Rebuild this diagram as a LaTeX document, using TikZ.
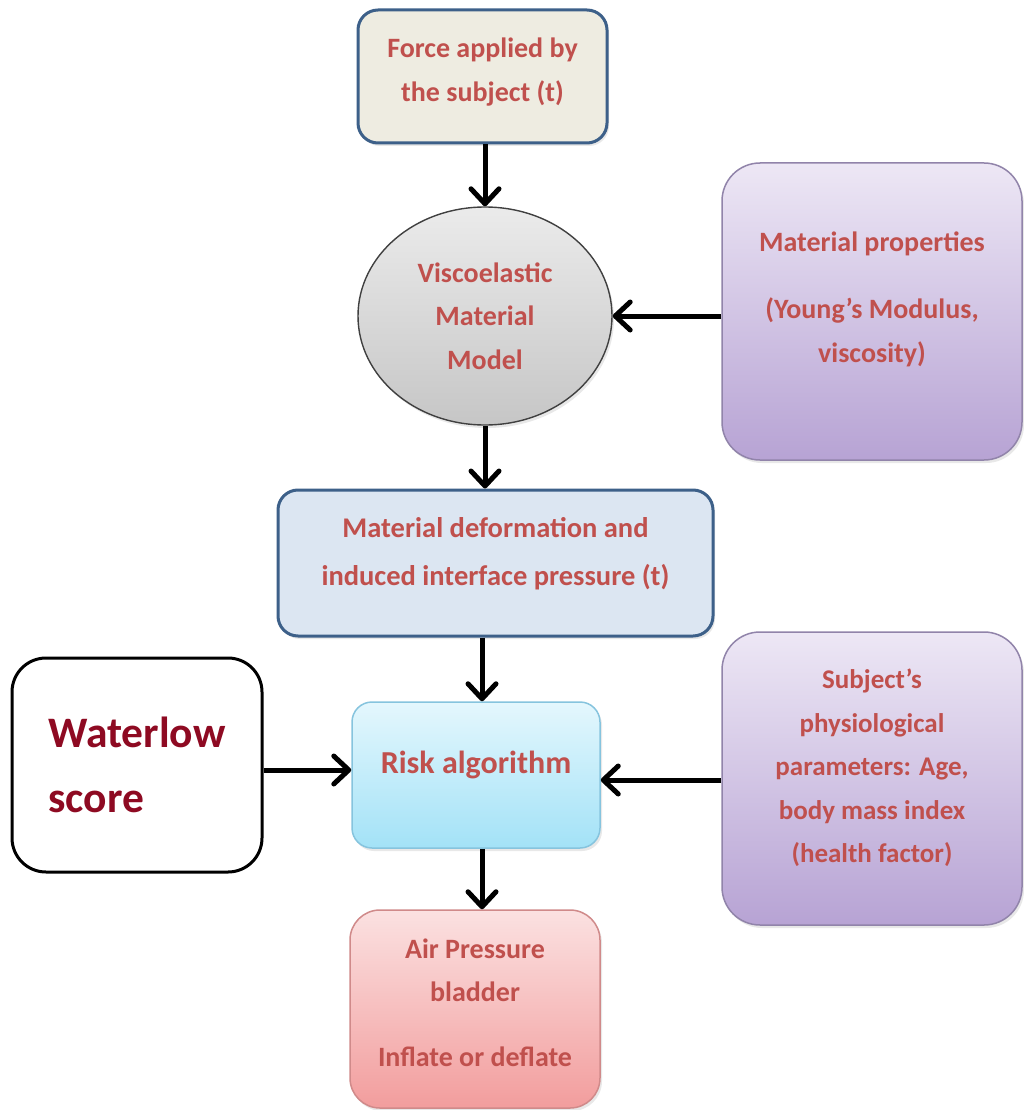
\documentclass[tikz,border=0pt]{standalone}
\usepackage{fontspec}
\setmainfont{Carlito}
\usetikzlibrary{arrows.meta,shapes.geometric,shadows}
\definecolor{txtred}{HTML}{C0504D}
\definecolor{wred}{HTML}{8E0A22}
\definecolor{bluebd}{HTML}{3D6089}
\definecolor{beige}{HTML}{EEECE1}
\definecolor{paleblue}{HTML}{DCE6F2}
\definecolor{purtop}{HTML}{EDE7F5}
\definecolor{purbot}{HTML}{B7A3D4}
\definecolor{purbd}{HTML}{9184AA}
\definecolor{cyantop}{HTML}{E4F7FD}
\definecolor{cyanbot}{HTML}{A3E2F7}
\definecolor{cyanbd}{HTML}{86C4DE}
\definecolor{pinktop}{HTML}{FBE1E1}
\definecolor{pinkbot}{HTML}{F29D9D}
\definecolor{pinkbd}{HTML}{D08A8A}
\definecolor{graytop}{HTML}{EBEBEB}
\definecolor{graybot}{HTML}{C6C6C6}
\definecolor{graybd}{HTML}{404040}
\tikzset{
  base/.style={inner sep=0pt, align=center, text=txtred,
    font=\bfseries\fontsize{28}{43.5}\selectfont},
  sh/.style={drop shadow={opacity=0.18, shadow xshift=2pt, shadow yshift=-3pt}},
  bluebox/.style={base, rectangle, rounded corners=20pt, draw=bluebd, line width=3pt, sh},
  purbox/.style={base, rectangle, rounded corners=38pt, draw=purbd, line width=1.5pt,
    top color=purtop, bottom color=purbot, sh, minimum width=300pt},
  conn/.style={line width=5pt, -{Straight Barb[length=15pt,width=28pt,round]}}
}
\begin{document}
\begin{tikzpicture}[x=1pt,y=-1pt]
\useasboundingbox (0,0) rectangle (1024,1110);
\fill[white] (0,0) rectangle (1024,1110);

\node[bluebox, fill=beige, minimum width=249pt, minimum height=133pt] (force) at (482.5,76.5)
  {Force applied by\\the subject (t)\\[-30pt]};

\node[base, ellipse, draw=graybd, line width=1.4pt, top color=graytop, bottom color=graybot,
  minimum width=254pt, minimum height=218pt, sh] (visco) at (485,316)
  {Viscoelastic\\Material\\Model};

\node[purbox, minimum height=297pt] (props) at (872,311.5)
  {Material properties\\[24pt](Young’s Modulus,\\viscosity)\\[-14pt]};

\node[bluebox, fill=paleblue, minimum width=435pt, minimum height=146pt,
  font=\bfseries\fontsize{28.5}{48}\selectfont] (deform) at (495.5,563)
  {Material deformation and\\induced interface pressure (t)\\[-24pt]};

\node[base, rectangle, rounded corners=20pt, draw=cyanbd, line width=1.5pt,
  top color=cyantop, bottom color=cyanbot, sh,
  minimum width=248pt, minimum height=146pt, font=\bfseries\fontsize{32}{40}\selectfont] (risk) at (476,775)
  {Risk algorithm\\[-14pt]};

\node[base, rectangle, rounded corners=34pt, draw=black, line width=3pt, fill=white,
  minimum width=250pt, minimum height=214pt, align=left, text=wred,
  font=\bfseries\fontsize{43.5}{65}\selectfont] (water) at (137,765)
  {Waterlow\\score};

\node[purbox, minimum height=293pt, font=\bfseries\fontsize{27}{43.5}\selectfont] (subj) at (872,778.5)
  {Subject’s\\physiological\\parameters: Age,\\body mass index\\(health factor)\\[-18pt]};

\node[base, rectangle, rounded corners=30pt, draw=pinkbd, line width=1.5pt,
  top color=pinktop, bottom color=pinkbot, sh,
  minimum width=250pt, minimum height=198pt] (air) at (475,1009)
  {Air Pressure\\bladder\\[21pt]Inflate or deflate\\[-30pt]};

\draw[conn] (visco.north |- force.south) -- (visco.north);
\draw[conn] (visco.south) -- (visco.south |- deform.north);
\draw[conn] (props.west |- visco.east) -- (visco.east);
\draw[conn] ([xshift=6pt]risk.north |- deform.south) -- ([xshift=6pt]risk.north);
\draw[conn] ([yshift=-5pt]water.east) -- ([yshift=-5pt]water.east -| risk.west);
\draw[conn] ([yshift=-5pt]subj.west |- risk.east) -- ([yshift=-5pt]risk.east);
\draw[conn] ([xshift=6pt]risk.south) -- ([xshift=6pt]risk.south |- air.north);
\end{tikzpicture}
\end{document}
